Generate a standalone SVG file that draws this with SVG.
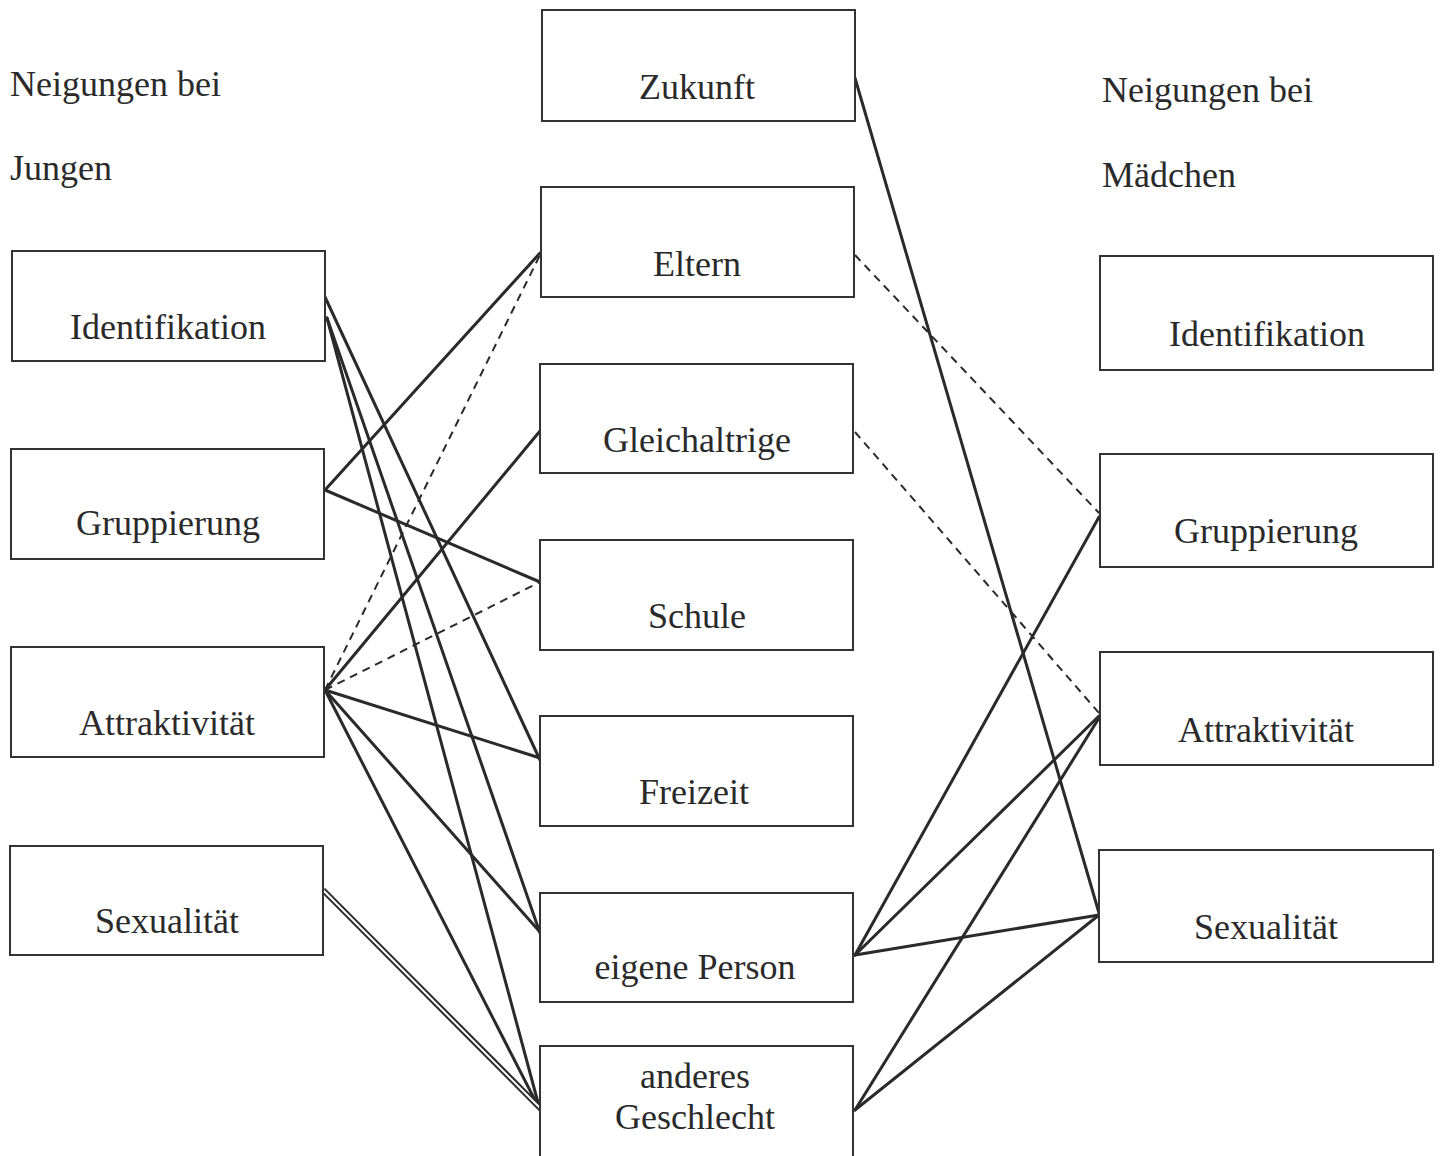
<svg xmlns="http://www.w3.org/2000/svg" width="1443" height="1156" viewBox="0 0 1443 1156">
<style>
.box{fill:#fff;stroke:#333;stroke-width:2}
.t{font-family:"Liberation Serif","Times New Roman",serif;font-size:36px;fill:#2a2a2a;text-anchor:middle}
.h{font-family:"Liberation Serif","Times New Roman",serif;font-size:36px;fill:#2a2a2a}
.s{stroke:#2a2a2a;stroke-width:3;fill:none;stroke-linecap:round}
.d{stroke:#2a2a2a;stroke-width:2;fill:none;stroke-dasharray:8 6}
.dbo{stroke:#2a2a2a;stroke-width:6;fill:none}
.dbi{stroke:#fff;stroke-width:2;fill:none}
</style>
<rect width="1443" height="1156" fill="#fff"/>
<g id="headers">
<text class="h" x="10" y="96">Neigungen bei</text>
<text class="h" x="10" y="180">Jungen</text>
<text class="h" x="1102" y="102">Neigungen bei</text>
<text class="h" x="1102" y="187">Mädchen</text>
</g>
<g id="connectors">
<line class="s" x1="325" y1="297" x2="540" y2="760"/>
<line class="s" x1="327" y1="318" x2="540" y2="933"/>
<line class="s" x1="327" y1="318" x2="540" y2="1110"/>
<line class="s" x1="325" y1="490" x2="540" y2="253"/>
<line class="s" x1="325" y1="490" x2="540" y2="582"/>
<line class="d" x1="325" y1="690" x2="540" y2="255"/>
<line class="s" x1="325" y1="690" x2="540" y2="431"/>
<line class="d" x1="325" y1="690" x2="540" y2="582"/>
<line class="s" x1="325" y1="690" x2="540" y2="758"/>
<line class="s" x1="325" y1="690" x2="540" y2="932"/>
<line class="s" x1="325" y1="690" x2="540" y2="1110"/>
<line class="dbo" x1="323" y1="890" x2="540" y2="1108"/>
<line class="dbi" x1="323" y1="890" x2="540" y2="1108"/>
<line class="s" x1="855" y1="78" x2="1099" y2="913"/>
<line class="d" x1="855" y1="255" x2="1099" y2="513"/>
<line class="d" x1="855" y1="432" x2="1099" y2="713"/>
<line class="s" x1="855" y1="955" x2="1099" y2="517"/>
<line class="s" x1="855" y1="955" x2="1099" y2="716"/>
<line class="s" x1="855" y1="1110" x2="1099" y2="718"/>
<line class="s" x1="855" y1="955" x2="1099" y2="915"/>
<line class="s" x1="855" y1="1110" x2="1099" y2="915"/>
</g>
<g id="l-identifikation"><rect class="box" x="12" y="251" width="313" height="110"/><text class="t" x="168" y="339">Identifikation</text></g>
<g id="l-gruppierung"><rect class="box" x="11" y="449" width="313" height="110"/><text class="t" x="168" y="535">Gruppierung</text></g>
<g id="l-attraktivitaet"><rect class="box" x="11" y="647" width="313" height="110"/><text class="t" x="167" y="735">Attraktivität</text></g>
<g id="l-sexualitaet"><rect class="box" x="10" y="846" width="313" height="109"/><text class="t" x="167" y="933">Sexualität</text></g>
<g id="m-zukunft"><rect class="box" x="542" y="10" width="313" height="111"/><text class="t" x="697" y="99">Zukunft</text></g>
<g id="m-eltern"><rect class="box" x="541" y="187" width="313" height="110"/><text class="t" x="697" y="276">Eltern</text></g>
<g id="m-gleichaltrige"><rect class="box" x="540" y="364" width="313" height="109"/><text class="t" x="697" y="452">Gleichaltrige</text></g>
<g id="m-schule"><rect class="box" x="540" y="540" width="313" height="110"/><text class="t" x="697" y="628">Schule</text></g>
<g id="m-freizeit"><rect class="box" x="540" y="716" width="313" height="110"/><text class="t" x="694" y="804">Freizeit</text></g>
<g id="m-eigene-person"><rect class="box" x="540" y="893" width="313" height="109"/><text class="t" x="695" y="979">eigene Person</text></g>
<g id="m-anderes-geschlecht"><rect class="box" x="540" y="1046" width="313" height="112"/><text class="t" x="695" y="1088">anderes</text><text class="t" x="695" y="1129">Geschlecht</text></g>
<g id="r-identifikation"><rect class="box" x="1100" y="256" width="333" height="114"/><text class="t" x="1267" y="346">Identifikation</text></g>
<g id="r-gruppierung"><rect class="box" x="1100" y="454" width="333" height="113"/><text class="t" x="1266" y="543">Gruppierung</text></g>
<g id="r-attraktivitaet"><rect class="box" x="1100" y="652" width="333" height="113"/><text class="t" x="1266" y="742">Attraktivität</text></g>
<g id="r-sexualitaet"><rect class="box" x="1099" y="850" width="334" height="112"/><text class="t" x="1266" y="939">Sexualität</text></g>
</svg>
